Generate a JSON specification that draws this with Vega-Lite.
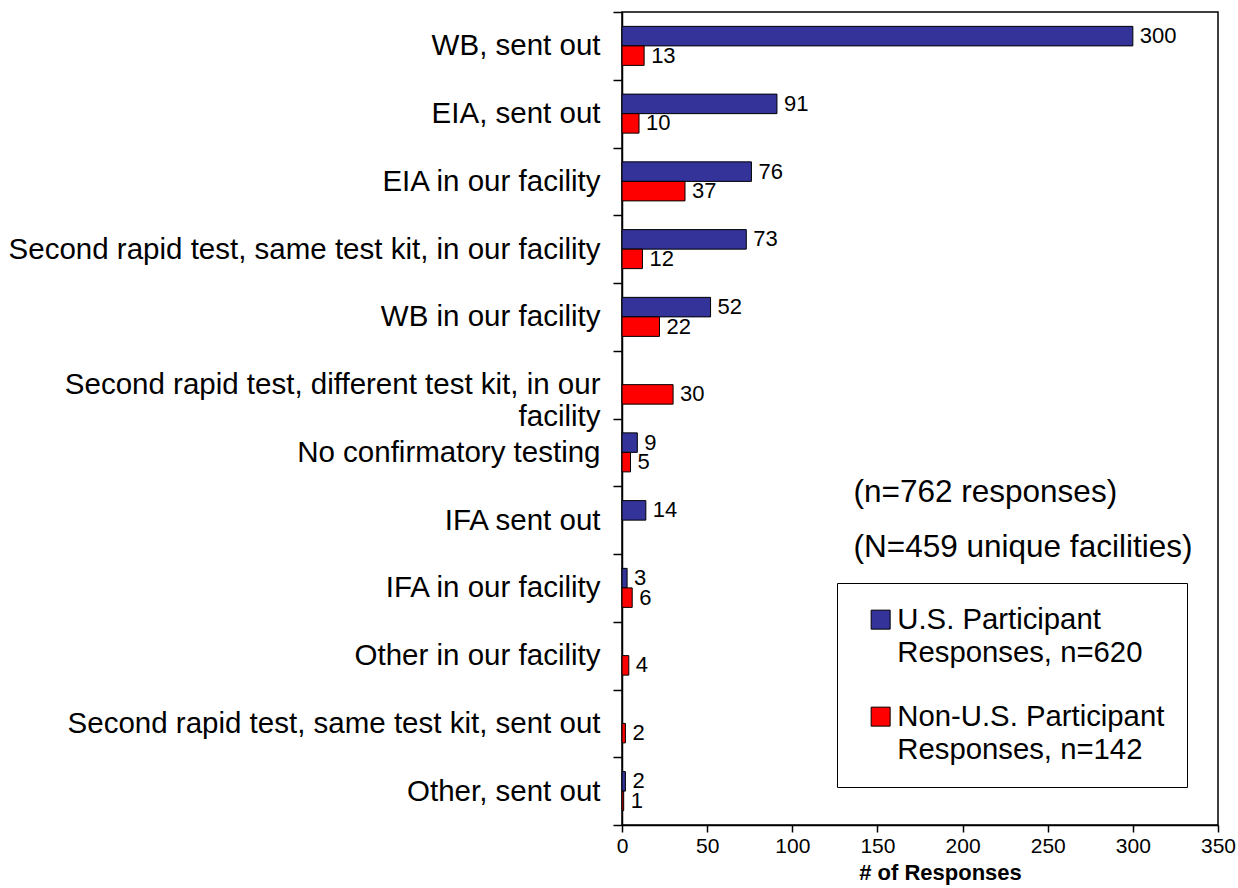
{
  "$schema": "https://vega.github.io/schema/vega-lite/v6.json",
  "width": 596,
  "height": 813,
  "autosize": {"type": "none"},
  "padding": {"left": 622, "top": 12, "right": 20, "bottom": 63},
  "background": "white",
  "config": {
    "font": "Liberation Sans",
    "view": {"stroke": "#000", "strokeWidth": 1.5},
    "axis": {"grid": false, "domainColor": "#000", "tickColor": "#000", "labelColor": "#000", "titleColor": "#000", "domainWidth": 1.5, "tickWidth": 1.5}
  },
  "datasets": {
    "bars": [
      {"category": "WB, sent out", "series": "U.S. Participant|Responses, n=620", "value": 300},
      {"category": "WB, sent out", "series": "Non-U.S. Participant|Responses, n=142", "value": 13},
      {"category": "EIA, sent out", "series": "U.S. Participant|Responses, n=620", "value": 91},
      {"category": "EIA, sent out", "series": "Non-U.S. Participant|Responses, n=142", "value": 10},
      {"category": "EIA in our facility", "series": "U.S. Participant|Responses, n=620", "value": 76},
      {"category": "EIA in our facility", "series": "Non-U.S. Participant|Responses, n=142", "value": 37},
      {"category": "Second rapid test, same test kit, in our facility", "series": "U.S. Participant|Responses, n=620", "value": 73},
      {"category": "Second rapid test, same test kit, in our facility", "series": "Non-U.S. Participant|Responses, n=142", "value": 12},
      {"category": "WB in our facility", "series": "U.S. Participant|Responses, n=620", "value": 52},
      {"category": "WB in our facility", "series": "Non-U.S. Participant|Responses, n=142", "value": 22},
      {"category": "Second rapid test, different test kit, in our|facility", "series": "Non-U.S. Participant|Responses, n=142", "value": 30},
      {"category": "No confirmatory testing", "series": "U.S. Participant|Responses, n=620", "value": 9},
      {"category": "No confirmatory testing", "series": "Non-U.S. Participant|Responses, n=142", "value": 5},
      {"category": "IFA sent out", "series": "U.S. Participant|Responses, n=620", "value": 14},
      {"category": "IFA in our facility", "series": "U.S. Participant|Responses, n=620", "value": 3},
      {"category": "IFA in our facility", "series": "Non-U.S. Participant|Responses, n=142", "value": 6},
      {"category": "Other in our facility", "series": "Non-U.S. Participant|Responses, n=142", "value": 4},
      {"category": "Second rapid test, same test kit, sent out", "series": "Non-U.S. Participant|Responses, n=142", "value": 2},
      {"category": "Other, sent out", "series": "U.S. Participant|Responses, n=620", "value": 2},
      {"category": "Other, sent out", "series": "Non-U.S. Participant|Responses, n=142", "value": 1}
    ]
  },
  "encoding": {
    "y": {
      "field": "category",
      "type": "nominal",
      "sort": ["WB, sent out", "EIA, sent out", "EIA in our facility", "Second rapid test, same test kit, in our facility", "WB in our facility", "Second rapid test, different test kit, in our|facility", "No confirmatory testing", "IFA sent out", "IFA in our facility", "Other in our facility", "Second rapid test, same test kit, sent out", "Other, sent out"],
      "scale": {"paddingInner": 0, "paddingOuter": 0},
      "axis": {
        "title": null,
        "labelFontSize": 29.5,
        "labelLimit": 0,
        "tickBand": "extent",
        "tickSize": 9,
        "labelPadding": 13,
        "labelLineHeight": 32,
        "labelExpr": "split(datum.label, '|')"
      }
    },
    "x": {
      "field": "value",
      "type": "quantitative",
      "scale": {"domain": [0, 350]},
      "axis": {"values": [0, 50, 100, 150, 200, 250, 300, 350], "labelFontSize": 21, "tickSize": 7, "labelPadding": 3, "title": "# of Responses", "titleFontSize": 22, "titleFontWeight": "bold", "titlePadding": 6, "titleX": 318, "labelFlush": false}
    }
  },
  "layer": [
    {
      "data": {"name": "bars"},
      "mark": {"type": "bar", "stroke": "#000", "strokeWidth": 1},
      "encoding": {
        "yOffset": {"field": "series", "type": "nominal", "sort": ["U.S. Participant|Responses, n=620", "Non-U.S. Participant|Responses, n=142"], "scale": {"paddingInner": 0, "paddingOuter": 0.737}},
        "color": {
          "field": "series",
          "type": "nominal",
          "scale": {"domain": ["U.S. Participant|Responses, n=620", "Non-U.S. Participant|Responses, n=142"], "range": ["#333399", "#ff0000"]},
          "legend": {
            "title": null, "orient": "none", "legendX": 215, "legendY": 571,
            "strokeColor": "#000", "fillColor": "#fff", "padding": 22,
            "symbolType": "square", "symbolSize": 361, "symbolStrokeColor": "#000", "symbolStrokeWidth": 1,
            "labelFontSize": 29.3, "labelLimit": 0, "rowPadding": 34, "symbolOffset": 7, "labelOffset": 2, "labelColor": "#000",
            "labelExpr": "split(datum.label, '|')",
            "encode": {"labels": {"update": {"lineHeight": {"value": 33}}}}
          }
        }
      }
    },
    {
      "data": {"name": "bars"},
      "mark": {"type": "text", "align": "left", "dx": 7, "fontSize": 22, "color": "#000"},
      "encoding": {
        "yOffset": {"field": "series", "type": "nominal", "sort": ["U.S. Participant|Responses, n=620", "Non-U.S. Participant|Responses, n=142"]},
        "text": {"field": "value", "type": "quantitative"}
      }
    },
    {
      "data": {"values": [{"category": "IFA sent out", "value": 136, "label": "(n=762 responses)"}]},
      "mark": {"type": "text", "align": "left", "dy": -27, "fontSize": 31.5, "color": "#000"},
      "encoding": {"text": {"field": "label"}}
    },
    {
      "data": {"values": [{"category": "IFA sent out", "value": 136, "label": "(N=459 unique facilities)"}]},
      "mark": {"type": "text", "align": "left", "dy": 28, "fontSize": 31.5, "color": "#000"},
      "encoding": {"text": {"field": "label"}}
    }
  ]
}
